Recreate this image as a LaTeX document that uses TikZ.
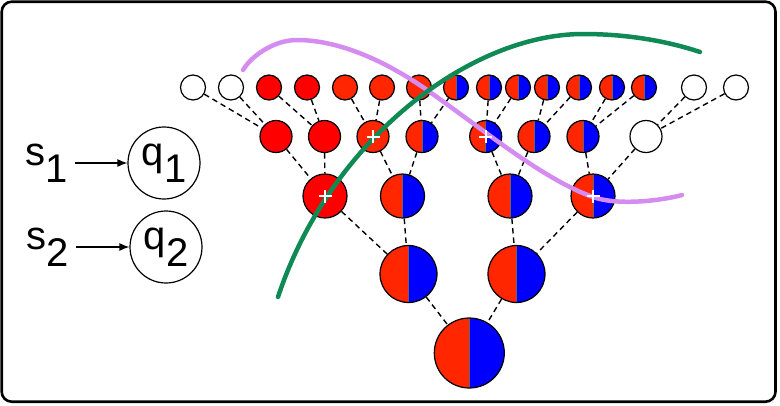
\documentclass[tikz,border=0pt]{standalone}
\usepackage{fontspec}
\setmainfont{Liberation Sans}
\usetikzlibrary{arrows.meta}
\definecolor{pred}{RGB}{255,0,0}
\definecolor{ored}{RGB}{255,38,0}
\definecolor{pblue}{RGB}{0,0,255}
\definecolor{cgreen}{RGB}{16,138,84}
\definecolor{cviolet}{RGB}{212,140,240}
\tikzset{
  nd/.style={circle, draw=black, line width=1.2pt, inner sep=0pt},
  wh/.style={nd, fill=white},
  rd/.style={nd, fill=pred},
  og/.style={nd, fill=ored},
  hb/.style={nd, fill=ored, path picture={
      \fill[pblue] (path picture bounding box.north) rectangle (path picture bounding box.south east);
      \draw[line width=0.5pt, black!60] (path picture bounding box.north) -- (path picture bounding box.south);}},
  lv1/.style={minimum size=25pt},
  lv2/.style={minimum size=32pt},
  lv3/.style={minimum size=44pt},
  lv4/.style={minimum size=57pt},
  lv5/.style={minimum size=70pt},
  link/.style={draw=black, line width=1.4pt, dash pattern=on 5.5pt off 4pt},
  plusmark/.style={draw=white, line width=2pt},
  txt/.style={font=\fontsize{40}{48}\selectfont, inner ysep=0pt, inner xsep=7pt},
  qnode/.style={circle, draw=black, line width=1.2pt, minimum size=72pt, inner sep=0pt,
                font=\fontsize{40}{48}\selectfont},
  arr/.style={line width=1.2pt, -{Latex[length=10pt,width=8pt]}},
  cut/.style={line width=4.5pt, line cap=round}
}
\newcommand{\idx}[1]{\raisebox{-17pt}{#1}}
\begin{document}
\begin{tikzpicture}[x=1pt, y=-1pt]
  \useasboundingbox (0,0) rectangle (780,405);
  % frame
  \draw[line width=2.6pt, rounded corners=10pt] (1.7,1.7) rectangle (775.5,401.7);

  % inputs
  \node[qnode] (q1) at (164,163) {q\idx{1}};
  \node[qnode] (q2) at (166,247) {q\idx{2}};
  \node[txt] (s1) at (47,163) {s\idx{1}};
  \node[txt] (s2) at (48,247) {s\idx{2}};
  \draw[arr] (s1.east) -- (q1.west);
  \draw[arr] (s2.east) -- (q2.west);

  % leaves
  \node[wh, lv1] (a1)  at (193,87.5) {};
  \node[wh, lv1] (a2)  at (231,87.5) {};
  \node[rd, lv1] (a3)  at (269,87.5) {};
  \node[rd, lv1] (a4)  at (307,87.5) {};
  \node[og, lv1] (a5)  at (345,87.5) {};
  \node[og, lv1] (a6)  at (382,87.5) {};
  \node[og, lv1] (a7)  at (419,87.5) {};
  \node[hb, lv1] (a8)  at (456,87.5) {};
  \node[hb, lv1] (a9)  at (489,87.5) {};
  \node[hb, lv1] (a10) at (518,87.5) {};
  \node[hb, lv1] (a11) at (547,87.5) {};
  \node[hb, lv1] (a12) at (579,87.5) {};
  \node[hb, lv1] (a13) at (612,87.5) {};
  \node[hb, lv1] (a14) at (644,87.5) {};
  \node[wh, lv1] (a15) at (694,87.5) {};
  \node[wh, lv1] (a16) at (736,87.5) {};

  % second level
  \node[rd, lv2] (b1) at (276,136.5) {};
  \node[rd, lv2] (b2) at (324.5,136.5) {};
  \node[og, lv2] (b3) at (373,136.5) {};
  \node[hb, lv2] (b4) at (422,136.5) {};
  \node[hb, lv2] (b5) at (485.7,136.5) {};
  \node[hb, lv2] (b6) at (534,136.5) {};
  \node[hb, lv2] (b7) at (583,136.5) {};
  \node[wh, lv2] (b8) at (646,136.5) {};

  % third level
  \node[rd, lv3] (c1) at (325,196) {};
  \node[hb, lv3] (c2) at (402.5,196) {};
  \node[hb, lv3] (c3) at (510,196) {};
  \node[hb, lv3] (c4) at (593,196) {};

  % fourth level and root
  \node[hb, lv4] (d1) at (408.5,274) {};
  \node[hb, lv4] (d2) at (516.5,274) {};
  \node[hb, lv5] (e)  at (469.3,353) {};

  % links
  \foreach \p/\u/\v in {b1/a1/a2, b2/a3/a4, b3/a5/a6, b4/a7/a8,
                        b5/a9/a10, b6/a11/a12, b7/a13/a14, b8/a15/a16,
                        c1/b1/b2, c2/b3/b4, c3/b5/b6, c4/b7/b8,
                        d1/c1/c2, d2/c3/c4, e/d1/d2} {
    \draw[link] (\u) -- (\p);
    \draw[link] (\v) -- (\p);
  }

  % cuts
  \draw[cut, cviolet] (243,70) .. controls (252,55) and (275,40) .. (297,40)
    .. controls (340,40) and (387,62) .. (427,90)
    .. controls (482,128.5) and (543,179.5) .. (593,197)
    .. controls (618,206) and (662,200.5) .. (682,195);
  \draw[cut, cgreen] (278,297) .. controls (330,140) and (470,34) .. (583,34)
    .. controls (630,34) and (670,42) .. (700,52);

  % crossing marks
  \foreach \n in {b3, b5, c1, c4} {
    \draw[plusmark] ([xshift=-6.5pt]\n.center) -- ([xshift=6.5pt]\n.center);
    \draw[plusmark] ([yshift=-6.5pt]\n.center) -- ([yshift=6.5pt]\n.center);
  }
\end{tikzpicture}
\end{document}
